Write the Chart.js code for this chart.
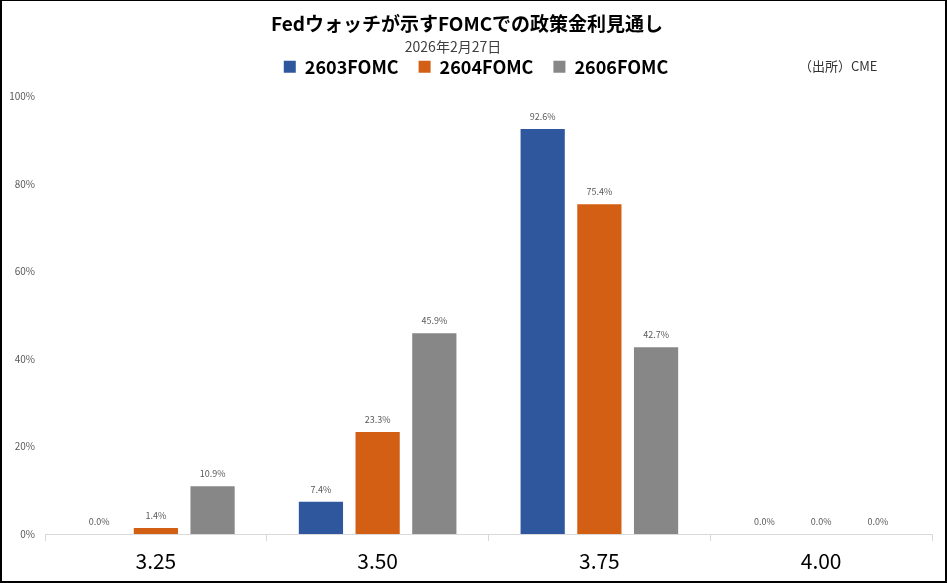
<!DOCTYPE html>
<html><head><meta charset="utf-8">
<script src="https://cdn.jsdelivr.net/npm/chart.js@4"></script>
<style>
html,body{margin:0;padding:0;background:#fff;}
#wrap{position:relative;width:947px;height:583px;box-sizing:border-box;border:2px solid #000;border-top-width:1px;}
canvas{display:block;}
</style></head><body>
<div id="wrap"><canvas id="c" width="943" height="580"></canvas></div>
<script>
const categories = ['3.25','3.50','3.75','4.00'];
const seriesNames = ['2603FOMC','2604FOMC','2606FOMC'];
const s2603 = [0.0, 7.4, 92.6, 0.0];
const s2604 = [1.4, 23.3, 75.4, 0.0];
const s2606 = [10.9, 45.9, 42.7, 0.0];
const yTicks = [0, 20, 40, 60, 80, 100];
const titleText = 'Fedウォッチが示すFOMCでの政策金利見通し';
const subtitleText = '2026年2月27日';
const sourceText = '（出所）CME';
const colors = ['#2F579E','#D25F14','#878787'];

const FONT = "'Noto Sans CJK JP','Noto Sans',sans-serif";

const labelPlugin = {
  id: 'extras',
  afterLayout(chart) {
    if (chart.legend) { chart.legend.left += 9; chart.legend.right += 9; }
  },
  afterDatasetsDraw(chart) {
    const ctx = chart.ctx;
    ctx.save();
    ctx.font = '9px ' + FONT;
    ctx.fillStyle = '#595959';
    ctx.textAlign = 'center';
    ctx.textBaseline = 'bottom';
    chart.data.datasets.forEach((ds, i) => {
      const meta = chart.getDatasetMeta(i);
      meta.data.forEach((bar, j) => {
        ctx.fillText(ds.data[j].toFixed(1) + '%', bar.x, bar.y - 8);
      });
    });
    ctx.fillStyle = '#404040';
    ctx.font = '14px ' + FONT;
    ctx.textBaseline = 'middle';
    ctx.fillText(subtitleText, 451, 46);
    ctx.font = '13px ' + FONT;
    ctx.fillStyle = '#333';
    ctx.textAlign = 'left';
    ctx.fillText(sourceText, 797, 65);
    ctx.restore();
  }
};

new Chart(document.getElementById('c'), {
  type: 'bar',
  data: {
    labels: categories,
    datasets: [
      {label: seriesNames[0], data: s2603, backgroundColor: colors[0]},
      {label: seriesNames[1], data: s2604, backgroundColor: colors[1]},
      {label: seriesNames[2], data: s2606, backgroundColor: colors[2]}
    ]
  },
  options: {
    responsive: false,
    animation: false,
    devicePixelRatio: 1,
    layout: {padding: {left: 0, right: 13, top: 0, bottom: 0}},
    datasets: {bar: {categoryPercentage: 0.767, barPercentage: 0.78}},
    plugins: {
      title: {display: true, text: titleText, color: '#000',
        font: {family: FONT, size: 19, weight: 'bold'}, padding: {top: 11, bottom: 3}},
      legend: {display: true, position: 'top',
        labels: {boxWidth: 12, boxHeight: 12, color: '#000', padding: 20,
          font: {family: FONT, size: 18, weight: 'bold'}}},
      subtitle: {display: true, text: ' ', weight: 500, color: '#fff',
        font: {family: FONT, size: 9}, padding: {top: 0, bottom: 0}},
      tooltip: {enabled: false}
    },
    scales: {
      x: {
        grid: {display: true, drawOnChartArea: false, color: '#D9D9D9', tickLength: 7, offset: true},
        border: {display: true, color: '#D9D9D9'},
        ticks: {color: '#000', font: {family: FONT, size: 21}, padding: 7},
        afterFit(s) { s.height = 47; }
      },
      y: {
        min: 0, max: 100,
        afterBuildTicks(s) { s.ticks = yTicks.map(v => ({value: v})); },
        grid: {display: false},
        border: {display: false},
        ticks: {color: '#595959', font: {family: FONT, size: 10}, padding: 2,
          callback: v => v + '%'},
        afterFit(s) { s.width = 43; }
      }
    }
  },
  plugins: [labelPlugin]
});
</script>
</body></html>
